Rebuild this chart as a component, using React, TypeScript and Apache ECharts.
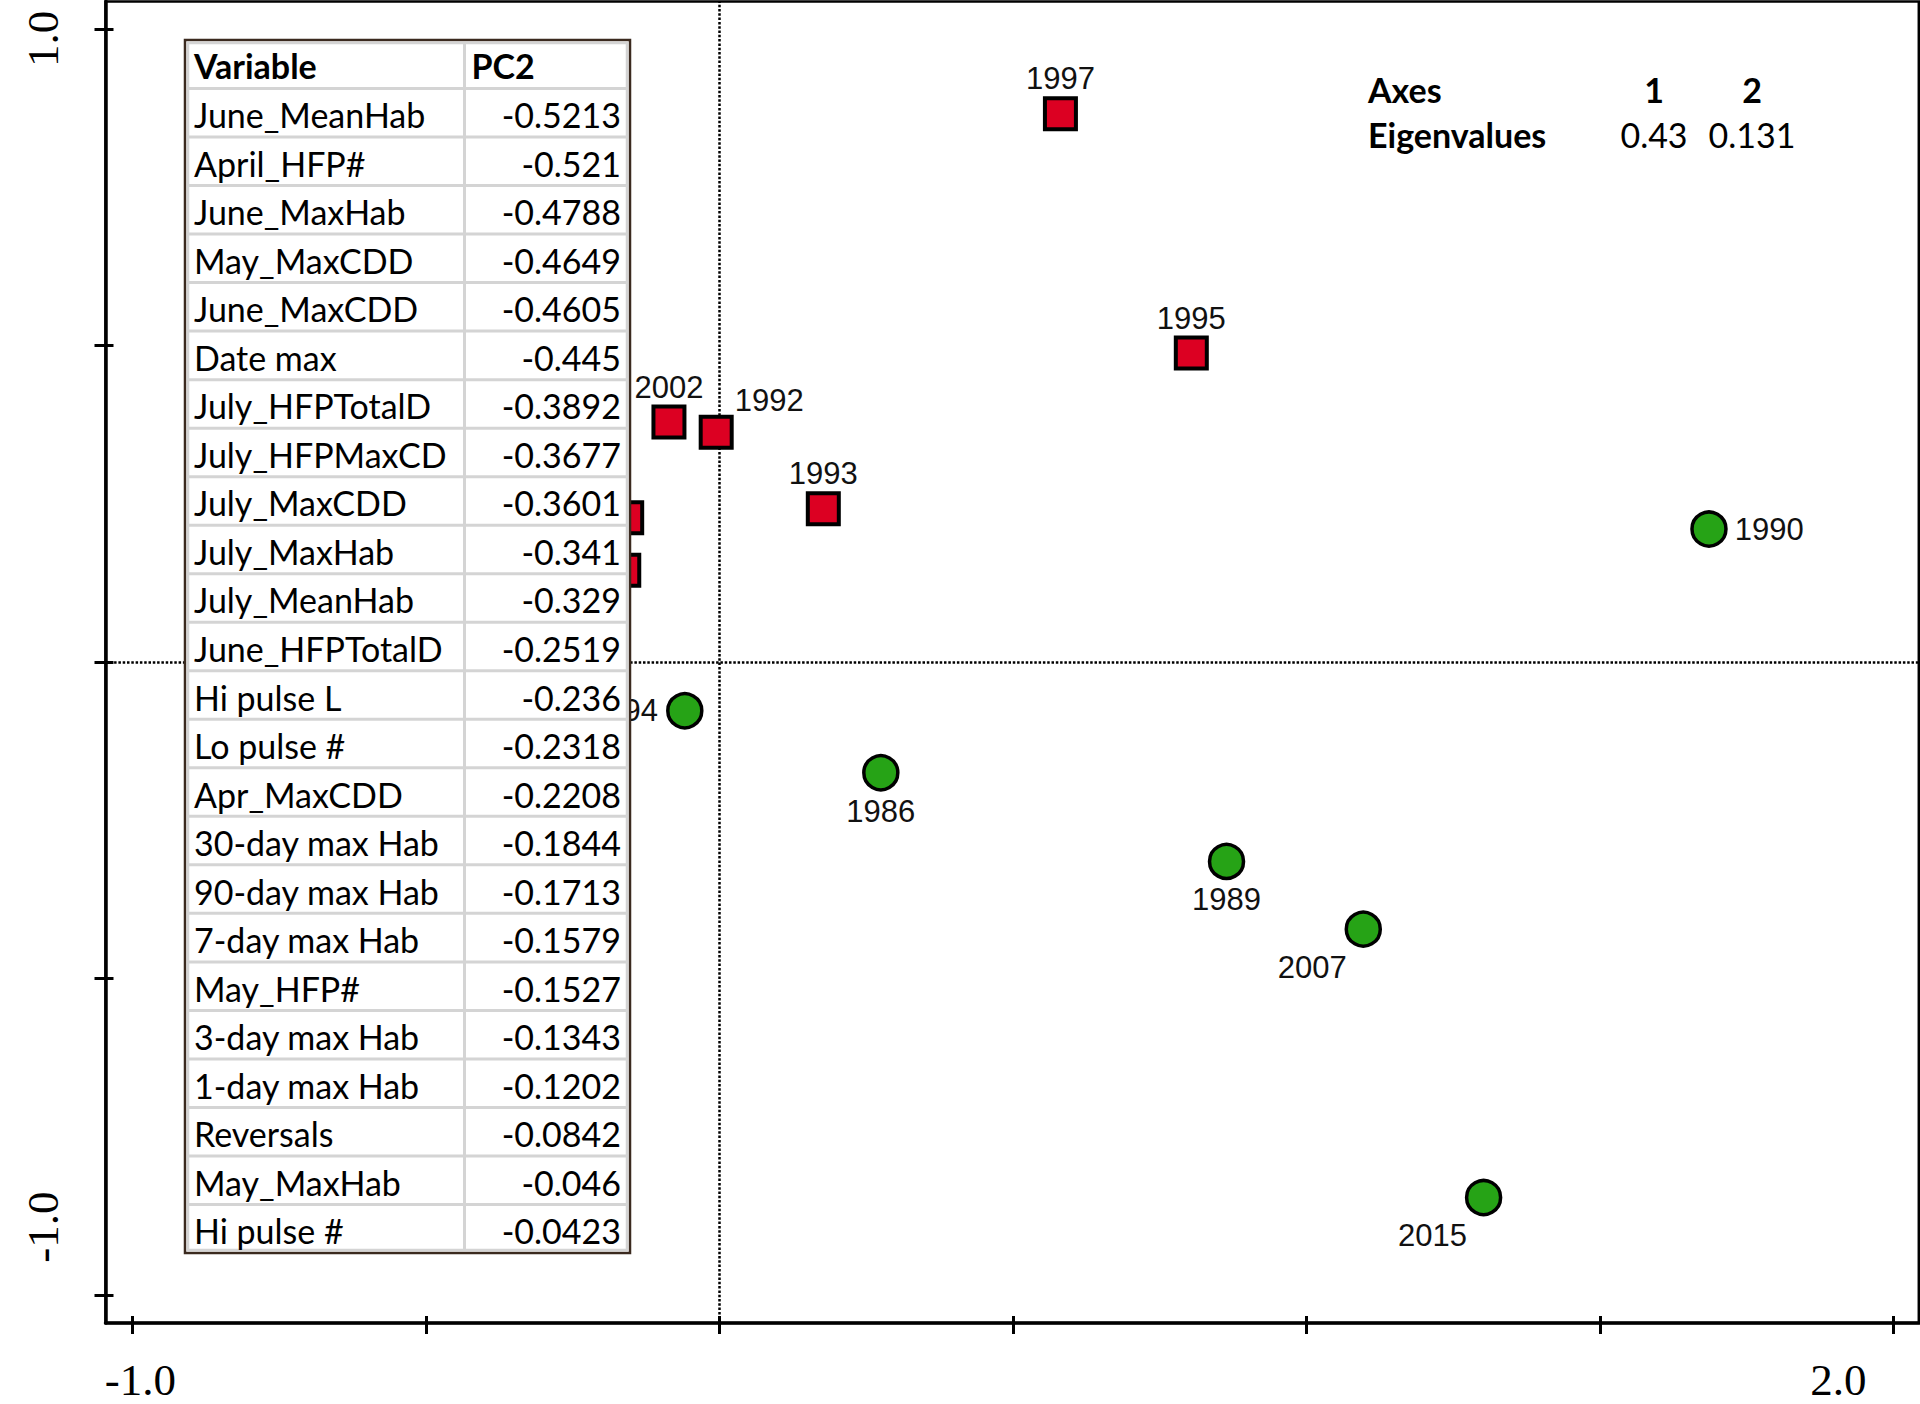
import React, { useEffect, useRef } from 'react';
import * as echarts from 'echarts';

// ---- Data ----
const redYears = ['1997', '1995', '2002', '1992', '1993', '', ''];
const redPC1 = [0.581, 0.804, -0.086, -0.0055, 0.177, -0.158, -0.163];
const redPC2 = [0.866, 0.488, 0.379, 0.363, 0.242, 0.228, 0.145];

const greenYears = ['1990', '1994', '1986', '1989', '2007', '2015'];
const greenPC1 = [1.686, -0.059, 0.275, 0.864, 1.097, 1.302];
const greenPC2 = [0.21, -0.077, -0.175, -0.315, -0.422, -0.846];

const xTickValues = [-1, -0.5, 0, 0.5, 1, 1.5, 2];
const yTickValues = [-1, -0.5, 0, 0.5, 1];
const xTickLabels = [-1, 2];
const yTickLabels = [-1, 1];

const tableHeader = ['Variable', 'PC2'];
const variables = [
  'June_MeanHab', 'April_HFP#', 'June_MaxHab', 'May_MaxCDD', 'June_MaxCDD', 'Date max',
  'July_HFPTotalD', 'July_HFPMaxCD', 'July_MaxCDD', 'July_MaxHab', 'July_MeanHab',
  'June_HFPTotalD', 'Hi pulse L', 'Lo pulse #', 'Apr_MaxCDD', '30-day max Hab',
  '90-day max Hab', '7-day max Hab', 'May_HFP#', '3-day max Hab', '1-day max Hab',
  'Reversals', 'May_MaxHab', 'Hi pulse #',
];
const pc2Loadings = [
  -0.5213, -0.521, -0.4788, -0.4649, -0.4605, -0.445, -0.3892, -0.3677, -0.3601, -0.341,
  -0.329, -0.2519, -0.236, -0.2318, -0.2208, -0.1844, -0.1713, -0.1579, -0.1527, -0.1343,
  -0.1202, -0.0842, -0.046, -0.0423,
];

const eigenAxes = ['1', '2'];
const eigenvalues = [0.43, 0.131];

// ---- Label placement (styling, not data) ----
const labelPlacement: Record<string, any> = {
  '1997': { position: 'top', distance: 2 },
  '1995': { position: 'top', distance: 2 },
  '2002': { position: 'top', distance: 2 },
  '1992': { position: 'right', distance: 1, offset: [0, -32] },
  '1993': { position: 'top', distance: 2 },
  '1990': { position: 'right', distance: 7 },
  '1994': { position: 'left', distance: 8 },
  '1986': { position: 'bottom', distance: 4 },
  '1989': { position: 'bottom', distance: 4 },
  '2007': { position: 'bottom', distance: 4, offset: [-51, 0] },
  '2015': { position: 'bottom', distance: 4, offset: [-51, 0] },
};

const X_MIN = -1.046;
const X_MAX = 2.0435;
const Y_MIN = -1.0442;
const Y_MAX = 1.0434;

const serif = 'Liberation Serif';
const sans = 'Liberation Sans';
const calibriLike = 'Lato';

function buildPoints(years: string[], xs: number[], ys: number[]) {
  return years.map((name, i) => ({
    name,
    value: [xs[i], ys[i]],
    label: name ? { show: true, ...labelPlacement[name] } : { show: false },
  }));
}

function buildTable() {
  const left = 185;
  const top = 40;
  const width = 445;
  const rowH = 48.52;
  const colX = 464.5;
  const nRows = variables.length + 1;
  const height = rowH * nRows;
  const els: any[] = [];
  const Z = 100;
  els.push({
    type: 'rect', z: Z,
    shape: { x: left, y: top, width, height },
    style: { fill: '#ffffff', stroke: '#3b2a1f', lineWidth: 2.5 },
  });
  els.push({
    type: 'rect', z: Z + 1,
    shape: { x: left + 3, y: top + 3, width: width - 6, height: height - 6 },
    style: { fill: 'none', stroke: '#d4d4d4', lineWidth: 2.5 },
  });
  for (let r = 1; r < nRows; r++) {
    const y = top + r * rowH;
    els.push({
      type: 'line', z: Z + 1,
      shape: { x1: left + 3, y1: y, x2: left + width - 3, y2: y },
      style: { stroke: '#d4d4d4', lineWidth: 3 },
    });
  }
  els.push({
    type: 'line', z: Z + 1,
    shape: { x1: colX, y1: top + 3, x2: colX, y2: top + height - 3 },
    style: { stroke: '#d4d4d4', lineWidth: 3 },
  });
  const textBase = { fontFamily: calibriLike, fontSize: 34, fill: '#000', verticalAlign: 'middle' };
  els.push({
    type: 'text', z: Z + 2, x: left + 9, y: top + rowH / 2 + 1,
    style: { ...textBase, text: tableHeader[0], fontWeight: 'bold', align: 'left' },
  });
  els.push({
    type: 'text', z: Z + 2, x: colX + 7, y: top + rowH / 2 + 1,
    style: { ...textBase, text: tableHeader[1], fontWeight: 'bold', align: 'left' },
  });
  variables.forEach((v, i) => {
    const cy = top + (i + 1) * rowH + rowH / 2 + 2;
    els.push({
      type: 'text', z: Z + 2, x: left + 9, y: cy,
      style: { ...textBase, text: v, align: 'left' },
    });
    els.push({
      type: 'text', z: Z + 2, x: left + width - 9, y: cy,
      style: { ...textBase, text: String(pc2Loadings[i]), align: 'right' },
    });
  });
  return els;
}

function buildEigen() {
  const base = { fontFamily: calibriLike, fontSize: 34, fill: '#000', verticalAlign: 'middle' };
  const colCenters = [1654, 1752];
  const els: any[] = [
    { type: 'text', z: 100, x: 1368, y: 89, style: { ...base, text: 'Axes', fontWeight: 'bold', align: 'left' } },
    { type: 'text', z: 100, x: 1368, y: 134, style: { ...base, text: 'Eigenvalues', fontWeight: 'bold', align: 'left' } },
  ];
  eigenAxes.forEach((a, i) => {
    els.push({ type: 'text', z: 100, x: colCenters[i], y: 89, style: { ...base, text: a, fontWeight: 'bold', align: 'center' } });
    els.push({ type: 'text', z: 100, x: colCenters[i], y: 134, style: { ...base, text: String(eigenvalues[i]), align: 'center' } });
  });
  return els;
}

const pointLabel = {
  show: true,
  formatter: '{b}',
  fontFamily: sans,
  fontSize: 31,
  color: '#111',
};

const option: any = {
  animation: false,
  backgroundColor: '#ffffff',
  grid: {
    left: 105.5,
    right: 1.2,
    top: 1.5,
    bottom: 81,
    show: true,
    borderColor: '#000',
    borderWidth: 2.5,
    containLabel: false,
    outerBoundsMode: 'none',
  },
  xAxis: [
    {
      type: 'value', min: X_MIN, max: X_MAX, position: 'bottom',
      axisLine: { show: true, onZero: false, lineStyle: { color: '#000', width: 3.5 } },
      axisTick: { show: true, inside: false, length: 11, customValues: xTickValues, lineStyle: { color: '#000', width: 3 } },
      splitLine: { show: false },
      axisLabel: {
        show: true, customValues: xTickLabels, margin: 34, color: '#000',
        fontFamily: serif, fontSize: 45,
        formatter: (v: number) => (v < 0 ? `{l|${v.toFixed(1)}}` : `{r|${v.toFixed(1)}}`),
        rich: {
          l: { fontFamily: serif, fontSize: 45, color: '#000', padding: [0, 0, 0, 16] },
          r: { fontFamily: serif, fontSize: 45, color: '#000', padding: [0, 110, 0, 0] },
        },
      },
    },
    {
      type: 'value', min: X_MIN, max: X_MAX, position: 'bottom',
      axisLine: { show: false, onZero: false },
      axisTick: { show: true, inside: true, length: 7, customValues: xTickValues, lineStyle: { color: '#000', width: 3 } },
      splitLine: { show: false },
      axisLabel: { show: false },
    },
  ],
  yAxis: [
    {
      type: 'value', min: Y_MIN, max: Y_MAX, position: 'left',
      axisLine: { show: true, onZero: false, lineStyle: { color: '#000', width: 3.5 } },
      axisTick: { show: true, inside: false, length: 11, customValues: yTickValues, lineStyle: { color: '#000', width: 3 } },
      splitLine: { show: false },
      axisLabel: {
        show: true, customValues: yTickLabels, rotate: 90, margin: 40, color: '#000',
        fontFamily: serif, fontSize: 45,
        formatter: (v: number) => (v > 0 ? `{t|${v.toFixed(1)}}` : `{b|${v.toFixed(1)}}`),
        rich: {
          t: { fontFamily: serif, fontSize: 45, color: '#000', padding: [0, 20, 0, 0] },
          b: { fontFamily: serif, fontSize: 45, color: '#000', padding: [0, 0, 0, 136] },
        },
      },
    },
    {
      type: 'value', min: Y_MIN, max: Y_MAX, position: 'left',
      axisLine: { show: false, onZero: false },
      axisTick: { show: true, inside: true, length: 8, customValues: yTickValues, lineStyle: { color: '#000', width: 3 } },
      splitLine: { show: false },
      axisLabel: { show: false },
    },
  ],
  series: [
    {
      name: 'red',
      type: 'scatter',
      xAxisIndex: 0,
      yAxisIndex: 0,
      symbol: 'rect',
      symbolSize: 31,
      z: 3,
      itemStyle: { color: '#dc0022', borderColor: '#000', borderWidth: 4, opacity: 1 },
      label: pointLabel,
      data: buildPoints(redYears, redPC1, redPC2),
      markLine: {
        silent: true,
        z: 1,
        symbol: ['none', 'none'],
        label: { show: false },
        emphasis: { disabled: true },
        lineStyle: { color: '#000', width: 2.5, type: [2.5, 1.8], cap: 'butt' },
        data: [{ xAxis: 0 }, { yAxis: 0 }],
      },
    },
    {
      name: 'green',
      type: 'scatter',
      xAxisIndex: 0,
      yAxisIndex: 0,
      symbol: 'circle',
      symbolSize: 34,
      z: 3,
      itemStyle: { color: '#26a316', borderColor: '#000', borderWidth: 3.5, opacity: 1 },
      label: pointLabel,
      data: buildPoints(greenYears, greenPC1, greenPC2),
    },
  ],
  graphic: [...buildTable(), ...buildEigen()],
};

export default function App() {
  const ref = useRef<HTMLDivElement>(null);
  useEffect(() => {
    if (!ref.current) return;
    const chart = echarts.init(ref.current, null, { renderer: 'svg' });
    chart.setOption(option);
    return () => chart.dispose();
  }, []);
  return (
    <div
      ref={ref}
      style={{ position: 'fixed', left: 0, top: 0, width: 1920, height: 1404, background: '#fff' }}
    />
  );
}
